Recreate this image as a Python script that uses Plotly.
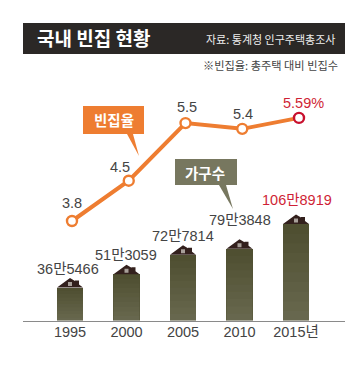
import plotly.graph_objects as go

years = [1995, 2000, 2005, 2010, 2015]
tick_labels = ["1995", "2000", "2005", "2010", "2015년"]
households = [365466, 513059, 727814, 793848, 1068919]
household_labels = ["36만5466", "51만3059", "72만7814", "79만3848", "106만8919"]
vacancy = [3.8, 4.5, 5.5, 5.4, 5.59]
vacancy_labels = ["3.8", "4.5", "5.5", "5.4", "5.59%"]

W, H = 360, 373
FONT = "Liberation Sans, Noto Sans CJK KR"
KR = "Noto Sans CJK KR"
GREY = "#444444"
RED = "#cf1f36"
ORANGE = "#ee7d31"
OLIVE = "#4f4f31"
ROOF = "#33201d"

fig = go.Figure()
fig.add_trace(go.Bar(
    x=years, y=households, width=2.32, marker=dict(color=OLIVE, line=dict(width=0)),
    xaxis="x", yaxis="y", hoverinfo="skip",
))
fig.add_trace(go.Scatter(
    x=years, y=vacancy, mode="lines+markers",
    line=dict(color=ORANGE, width=4),
    marker=dict(size=10, color="white", line=dict(color=[ORANGE] * 4 + ["#c8102e"], width=2.4)),
    xaxis="x2", yaxis="y2", hoverinfo="skip",
))

shapes = []
annotations = []


def px_x(v):
    return v / W


def px_y(v):
    return 1 - v / H


def text(x, y, s, size, color=GREY, anchor="center", weight=None):
    annotations.append(dict(
        x=px_x(x), y=px_y(y), xref="paper", yref="paper", text=s, showarrow=False,
        xanchor=anchor, yanchor="middle",
        font=dict(family=KR, size=size, color=color, weight=weight),
    ))


def rect(x0, y0, x1, y1, color):
    shapes.append(dict(type="rect", xref="paper", yref="paper", x0=px_x(x0), x1=px_x(x1),
                       y0=px_y(y0), y1=px_y(y1), fillcolor=color, line=dict(width=0), layer="below"))


def poly(points, color):
    path = "M " + " L ".join(f"{px_x(a):.4f},{px_y(b):.4f}" for a, b in points) + " Z"
    shapes.append(dict(type="path", xref="paper", yref="paper", path=path,
                       fillcolor=color, line=dict(width=0), layer="below"))


rect(23, 23, 345, 54, "#2b2826")
text(34.5, 38, "국내 빈집 현황", 19, "white", "left", 700)
text(337, 39.5, "자료: 통계청 인구주택총조사", 11, "#eeeeee", "right")
text(340, 65, "※빈집율: 총주택 대비 빈집수", 11.2, GREY, "right")

rect(83, 106, 144, 134, ORANGE)
poly([(127, 134), (139, 156), (133, 134)], ORANGE)
text(113.5, 119.5, "빈집율", 14.5, "white", "center", 700)

rect(175, 159, 237, 185, "#77775f")
poly([(219, 185), (233, 209), (226, 185)], "#77775f")
text(205, 172, "가구수", 14.5, "white", "center", 700)

# Bar shading: translucent bands lightening towards the baseline
BANDS = 10
for yr, val in zip(years, households):
    for i in range(BANDS):
        shapes.append(dict(
            type="rect", xref="x", yref="y", x0=yr - 1.16, x1=yr + 1.16,
            y0=val * i / BANDS, y1=val * (i + 1) / BANDS,
            fillcolor="white", opacity=0.14 * (BANDS - 1 - i) / (BANDS - 1), line=dict(width=0),
        ))

# Roof and window on each bar, anchored to the data
for yr, val in zip(years, households):
    shapes.append(dict(
        type="path", xref="x", yref="y", xsizemode="pixel", ysizemode="pixel",
        xanchor=yr, yanchor=val,
        path="M -13,0 L 0,9.5 L 5,6.5 L 5,7 L 9,7 L 9,3 L 13,0 Z", fillcolor=ROOF, line=dict(width=0),
    ))
    shapes.append(dict(
        type="rect", xref="x", yref="y", xsizemode="pixel", ysizemode="pixel",
        xanchor=yr, yanchor=val, x0=-2, x1=2, y0=1.5, y1=5.5, fillcolor="#a8a09a", line=dict(width=0),
    ))

# Value labels
hh_offsets = [(-2, 19), (-1, 19), (0, 19), (0, 29), (1, 24)]
for yr, val, lab, (dx, dy), col in zip(years, households, household_labels, hh_offsets,
                                        [GREY] * 4 + [RED]):
    annotations.append(dict(x=yr, y=val, xref="x", yref="y", text=lab, showarrow=False,
                            xanchor="center", yanchor="middle", xshift=dx, yshift=dy,
                            font=dict(family=FONT, size=14.5, color=col)))
vac_offsets = [(0, 18), (-9, 14), (1, 16), (1, 15), (4, 15)]
for yr, val, lab, col, (dx, dy) in zip(years, vacancy, vacancy_labels, [GREY] * 4 + [RED], vac_offsets):
    annotations.append(dict(x=yr, y=val, xref="x2", yref="y2", text=lab, showarrow=False,
                            xanchor="center", yanchor="middle", yshift=dy, xshift=dx,
                            font=dict(family=FONT, size=14.5, color=col)))

per = (296 - 70) / 20
x0 = 1995 - (70 - 23) / per
x1 = 2015 + (345 - 296) / per
per2 = (299 - 72) / 20
x20 = 1995 - (72 - 23) / per2
x21 = 2015 + (345 - 299) / per2

base_px = 320.5
dom = [px_y(base_px), px_y(90)]
yspan = 1068919 / (base_px - 224) * (base_px - 90)

fig.update_layout(
    width=W, height=H, margin=dict(l=0, r=0, t=0, b=0), showlegend=False,
    paper_bgcolor="white", plot_bgcolor="white", bargap=0,
    shapes=shapes, annotations=annotations,
    xaxis=dict(domain=[px_x(23), px_x(345)], range=[x0, x1], tickvals=years, ticktext=tick_labels,
               tickfont=dict(family=FONT, size=14.5, color=GREY), ticks="", showgrid=False,
               showline=True, linecolor="#8a8a8a", linewidth=1, zeroline=False, anchor="y", ticklabelstandoff=-2),
    yaxis=dict(domain=dom, range=[0, yspan], visible=False),
    xaxis2=dict(domain=[px_x(23), px_x(345)], range=[x20, x21], visible=False, overlaying="x", anchor="y2"),
    yaxis2=dict(domain=dom, range=[3.8 - (base_px - 221) / 57.6, 3.8 + (221 - 90) / 57.6],
                visible=False, overlaying="y", anchor="x2"),
)

fig.write_html("out.html", config=dict(displayModeBar=False),
               post_script="document.body.style.margin='0';document.body.style.overflow='hidden';")
